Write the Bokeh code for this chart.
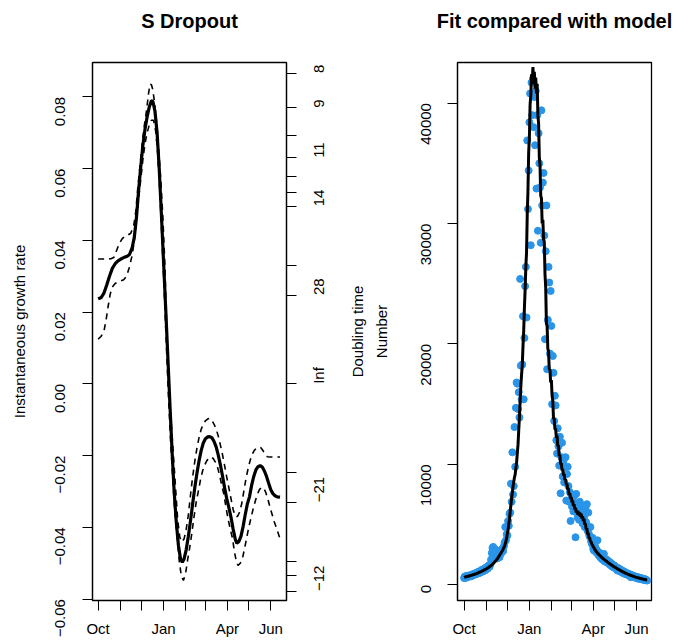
import math
from bokeh.plotting import figure
from bokeh.layouts import row
from bokeh.models import Range1d, LinearAxis, FixedTicker, Title
from bokeh.embed import file_html
from bokeh.resources import INLINE

# ---------------- data ----------------
# x values are days since 1 October
month_ticks = [0, 31, 61, 92, 123, 151, 182, 212, 243]
month_labels = ["Oct", "", "", "Jan", "", "", "Apr", "", "Jun"]

growth_ticks = [-0.06, -0.04, -0.02, 0.0, 0.02, 0.04, 0.06, 0.08]
growth_labels = ["\u22120.06", "\u22120.04", "\u22120.02", "0.00", "0.02", "0.04", "0.06", "0.08"]

doubling_days = [8, 9, 10, 11, 12, 13, 14, 21, 28, None, -28, -21, -14, -13, -12]
doubling_labels = ["8", "9", "", "11", "", "", "14", "", "28", "Inf", "", "\u221221", "", "", "\u221212"]

number_ticks = [0, 10000, 20000, 30000, 40000]
number_labels = ["0", "10000", "20000", "30000", "40000"]

# growth rate (solid)
r_days = [0, 4, 8, 12, 16, 20, 24, 28, 32, 36, 40, 44, 48, 51, 54, 57, 60, 63, 66, 69, 72, 75, 77,
          80, 83, 86, 89, 92, 95, 98, 101, 104, 107, 110, 113, 116, 118.5, 121, 124, 127, 130, 133,
          136, 139, 142, 145, 148, 151, 154, 157, 160, 163, 166, 169, 172, 175, 178, 181, 184, 187,
          190, 193, 195, 198, 201, 204, 207, 210, 213, 216, 219, 222, 225, 228, 231, 234, 237, 240,
          243, 246, 249, 252, 256]
r_mid = [0.0237, 0.0240, 0.0252, 0.0275, 0.0300, 0.0322, 0.0335, 0.0343, 0.0348, 0.0352, 0.0355,
         0.0360, 0.0380, 0.0410, 0.0465, 0.0540, 0.0605, 0.0665, 0.0710, 0.0745, 0.0772, 0.0789,
         0.0788, 0.0760, 0.0700, 0.0600, 0.0475, 0.0345, 0.0215, 0.0080, -0.0055, -0.0185, -0.0300,
         -0.0385, -0.0450, -0.0488, -0.0497, -0.0488, -0.0462, -0.0425, -0.0382, -0.0335, -0.0290,
         -0.0250, -0.0215, -0.0186, -0.0165, -0.0153, -0.0148, -0.0147, -0.0150, -0.0160, -0.0175,
         -0.0198, -0.0225, -0.0256, -0.0290, -0.0320, -0.0345, -0.0372, -0.0405, -0.0433, -0.0444,
         -0.0440, -0.0425, -0.0398, -0.0365, -0.0335, -0.0315, -0.0283, -0.0258, -0.0240, -0.0231,
         -0.0228, -0.0232, -0.0243, -0.0258, -0.0277, -0.0295, -0.0306, -0.0312, -0.0315, -0.0316]

# upper band (dashed)
up_days = [0, 6, 12, 18, 22, 26, 30, 34, 38, 42, 46, 50, 53, 56, 59, 62, 65, 68, 71, 73, 75, 77, 79,
           82, 85, 88, 91, 94, 97, 100, 103, 106, 109, 112, 115, 118, 121, 124, 127, 130, 133, 136,
           139, 142, 145, 148, 151, 154, 157, 160, 163, 166, 169, 172, 175, 178, 181, 184, 187, 190,
           193, 196, 199, 202, 205, 208, 211, 214, 217, 220, 223, 226, 229, 232, 235, 238, 242, 246,
           251, 256]
r_up = [0.0348, 0.0348, 0.0348, 0.0349, 0.0352, 0.0372, 0.0392, 0.0405, 0.0412, 0.0415, 0.0420,
        0.0440, 0.0480, 0.0550, 0.0610, 0.0670, 0.0720, 0.0760, 0.0810, 0.0836, 0.0834, 0.0820,
        0.0790, 0.0735, 0.0660, 0.0575, 0.0470, 0.0330, 0.0120, -0.0020, -0.0110, -0.0200, -0.0290,
        -0.0380, -0.0428, -0.0441, -0.0432, -0.0405, -0.0365, -0.0310, -0.0260, -0.0217, -0.0180,
        -0.0150, -0.0127, -0.0112, -0.0103, -0.0098, -0.0096, -0.0101, -0.0112, -0.0125, -0.0145,
        -0.0170, -0.0197, -0.0228, -0.0260, -0.0290, -0.0320, -0.0350, -0.0370, -0.0370, -0.0358,
        -0.0335, -0.0300, -0.0265, -0.0237, -0.0213, -0.0196, -0.0185, -0.0179, -0.0176, -0.0178,
        -0.0186, -0.0198, -0.0203, -0.0204, -0.0204, -0.0204, -0.0204]

# lower band (dashed)
lo_days = [0, 4, 8, 11, 14, 17, 20, 24, 28, 32, 36, 40, 44, 48, 51, 54, 57, 60, 63, 66, 69, 72, 75,
           78, 81, 84, 87, 90, 93, 96, 99, 102, 105, 108, 111, 114, 117, 120, 123, 126, 129, 132,
           135, 138, 141, 144, 147, 150, 153, 156, 159, 162, 165, 168, 171, 174, 177, 180, 183, 186,
           189, 192, 195, 197, 200, 203, 206, 209, 212, 215, 218, 221, 224, 227, 230, 233, 236, 239,
           242, 245, 248, 251, 254, 256]
r_lo = [0.0125, 0.0132, 0.0145, 0.0175, 0.0215, 0.0250, 0.0270, 0.0280, 0.0284, 0.0287, 0.0290,
        0.0300, 0.0325, 0.0360, 0.0400, 0.0450, 0.0515, 0.0570, 0.0625, 0.0670, 0.0700, 0.0722,
        0.0735, 0.0735, 0.0705, 0.0640, 0.0530, 0.0400, 0.0260, 0.0110, -0.0035, -0.0160, -0.0260,
        -0.0360, -0.0422, -0.0490, -0.0535, -0.0548, -0.0530, -0.0490, -0.0455, -0.0415, -0.0370,
        -0.0330, -0.0300, -0.0268, -0.0243, -0.0226, -0.0214, -0.0207, -0.0204, -0.0208, -0.0218,
        -0.0232, -0.0255, -0.0283, -0.0308, -0.0345, -0.0378, -0.0405, -0.0430, -0.0470, -0.0500,
        -0.0506, -0.0500, -0.0488, -0.0460, -0.0430, -0.0400, -0.0375, -0.0350, -0.0328, -0.0308,
        -0.0295, -0.0289, -0.0290, -0.0303, -0.0322, -0.0345, -0.0365, -0.0385, -0.0402, -0.0420,
        -0.0432]

# daily counts, day 0 .. 258
count_days = list(range(259))
observed = [560, 700, 610, 580, 760, 650, 720, 690, 800, 740, 700, 860, 790, 880, 820, 950, 870, 900,
            1020, 930, 1080, 1100, 990, 1150, 1060, 1250, 1180, 1120, 1300, 1350, 1220, 1450, 1400,
            1330, 1550, 1620, 1500, 1700, 2100, 2650, 3050, 3150, 2900, 2750, 2950, 2600, 2300, 2200,
            2400, 2500, 2300, 2700, 2600, 2900, 3000, 2800, 3200, 3500, 4800, 3700, 4200, 4100, 5300,
            4900, 5900, 6000, 8400, 6900, 11000, 7500, 8200, 13100, 9800, 14700, 16800, 16700, 14600,
            16000, 13900, 25400, 18200, 15400, 18300, 22300, 15400, 20500, 24800, 26400, 22200, 36900,
            31200, 34400, 38400, 40800, 28200, 41700, 39000, 42000, 38000, 40500, 36500, 41000, 32900,
            39000, 29400, 37500, 35000, 33000, 28400, 39400, 31500, 33400, 34200, 29000, 20400, 27700,
            31500, 17900, 22000, 26400, 25100, 19200, 24400, 21500, 15000, 19000, 17600, 13600, 15700,
            14900, 12000, 10900, 13000, 11500, 9900, 12300, 7600, 10600, 11800, 9000, 10300, 8500, 9800,
            10600, 7000, 9200, 9800, 8200, 6900, 7700, 5300, 7500, 6500, 7200, 6100, 7400, 6800, 3950,
            7550, 6300, 5600, 6700, 5400, 6900, 6400, 5800, 6600, 5100, 6200, 5600, 4800, 6400, 5200,
            6700, 4500, 6000, 4200, 4000, 4800, 3600, 3400, 3900, 3000, 2850, 3300, 3100, 2700, 2900,
            3700, 2500, 2700, 2350, 2600, 2200, 2400, 2100, 2250, 2570, 1950, 2150, 1900, 2100, 2020,
            1800, 1950, 1700, 1850, 1600, 1750, 1500, 1650, 1450, 1600, 1380, 1460, 1300, 1190, 1400,
            1250, 1150, 1300, 1100, 1200, 1000, 1150, 980, 1080, 900, 1020, 860, 950, 820, 900, 760,
            870, 630, 800, 700, 780, 650, 720, 600, 680, 560, 650, 520, 620, 500, 580, 470, 550, 450,
            520, 420, 480, 390, 450, 370, 360]
fitted = [620, 650, 640, 680, 690, 700, 730, 720, 760, 770, 780, 810, 810, 850, 860, 880, 910, 910,
          960, 970, 1000, 1030, 1040, 1090, 1100, 1130, 1170, 1180, 1230, 1250, 1280, 1320, 1340, 1400,
          1420, 1460, 1520, 1540, 1610, 1650, 1700, 1770, 1810, 1900, 1950, 2020, 2110, 2170, 2280,
          2350, 2450, 2560, 2640, 2760, 2840, 2950, 3100, 3210, 3420, 3620, 3900, 4280, 4570, 5080,
          5470, 6130, 6670, 7230, 7670, 8180, 8570, 8930, 9170, 9730, 10170, 10940, 11660, 12850,
          13950, 15350, 16550, 17450, 18250, 19800, 21100, 23000, 24500, 26400, 27600, 30800, 32700,
          35900, 37100, 39900, 40600, 42400, 41600, 43000, 41800, 42600, 41200, 42100, 40800, 41600,
          39000, 38300, 35500, 34800, 32300, 32100, 30000, 30300, 28700, 28500, 25800, 24700, 21700,
          21500, 19600, 19400, 17900, 17900, 16800, 17000, 15700, 15300, 13800, 13800, 12900, 13000,
          12200, 12400, 11500, 11600, 10700, 10800, 10000, 10100, 9500, 9600, 9100, 9200, 8700, 8800,
          8300, 8400, 7900, 8000, 7450, 7600, 7150, 7300, 6850, 7000, 6550, 6700, 6250, 6400, 6000,
          6200, 5850, 6100, 5750, 6000, 5650, 5900, 5500, 5700, 5300, 5500, 5000, 5100, 4600, 4700,
          4200, 4300, 3900, 3900, 3600, 3600, 3350, 3320, 3130, 3100, 2930, 2900, 2760, 2740, 2610,
          2600, 2480, 2470, 2370, 2350, 2260, 2250, 2160, 2150, 2060, 2050, 1980, 1960, 1880, 1860,
          1790, 1770, 1700, 1690, 1620, 1610, 1540, 1530, 1460, 1460, 1390, 1390, 1320, 1320, 1260,
          1250, 1190, 1180, 1130, 1110, 1060, 1050, 1000, 990, 940, 940, 890, 890, 840, 840, 790, 790,
          750, 750, 710, 710, 670, 660, 630, 620, 590, 590, 560, 560, 530, 530, 500, 500, 470, 470,
          440, 440, 420, 410, 400]

# ---------------- styling helpers ----------------
FONT = "Liberation Sans"
VERT = math.pi / 2


def style_axis(ax, ticks, labels, vertical):
    ax.ticker = FixedTicker(ticks=ticks)
    ax.major_label_overrides = {t: l for t, l in zip(ticks, labels)}
    ax.minor_tick_line_color = None
    ax.major_tick_in = 0
    ax.major_tick_out = 10
    ax.major_tick_line_color = "black"
    ax.major_tick_line_width = 1
    ax.axis_line_color = "black"
    ax.axis_line_width = 1.2
    ax.major_label_text_font = FONT
    ax.major_label_text_font_size = "15px"
    ax.major_label_text_color = "black"
    ax.axis_label_text_font = FONT
    ax.axis_label_text_font_size = "15px"
    ax.axis_label_text_font_style = "normal"
    ax.axis_label_text_color = "black"
    if vertical:
        ax.major_label_orientation = VERT


def make_fig(title, xr, yr, bl, br):
    p = figure(frame_width=194, frame_height=538, x_range=xr, y_range=yr, title=None,
               output_backend="svg", toolbar_location=None,
               min_border_left=bl, min_border_right=br, min_border_top=62, min_border_bottom=38)
    # spacer between title and frame, then the title itself (outermost)
    p.add_layout(Title(text=" ", text_font_size="10px", standoff=13), "above")
    p.add_layout(Title(text=title, align="center", text_font=FONT, text_font_size="20px",
                       text_font_style="bold", text_color="black", standoff=10), "above")
    p.xgrid.visible = False
    p.ygrid.visible = False
    p.outline_line_color = "black"
    p.outline_line_width = 1.3
    p.background_fill_color = "white"
    p.border_fill_color = "white"
    return p


# ---------------- left panel ----------------
p1 = make_fig("S Dropout", Range1d(-7.9, 265.1), Range1d(-0.0604, 0.0896), 92, 52)
style_axis(p1.xaxis[0], month_ticks, month_labels, False)
p1.xaxis[0].major_label_standoff = 9
style_axis(p1.yaxis[0], growth_ticks, growth_labels, True)
p1.yaxis[0].major_label_standoff = 22
p1.yaxis[0].axis_label = "Instantaneous growth rate"
p1.yaxis[0].axis_label_standoff = 20

dbl_ticks = [0.0 if d is None else math.log(2) / d for d in doubling_days]
ax_r = LinearAxis()
style_axis(ax_r, dbl_ticks, doubling_labels, True)
ax_r.major_label_standoff = 22
p1.add_layout(ax_r, "right")

p1.line(up_days, r_up, line_color="black", line_width=1.6, line_dash="6 5")
p1.line(lo_days, r_lo, line_color="black", line_width=1.6, line_dash="6 5")
p1.line(r_days, r_mid, line_color="black", line_width=3.2)

# ---------------- right panel ----------------
p2 = make_fig("Fit compared with model", Range1d(-9.3, 264.1), Range1d(-1300, 43370), 119, 22)
style_axis(p2.xaxis[0], month_ticks, month_labels, False)
p2.xaxis[0].major_label_standoff = 9
style_axis(p2.yaxis[0], number_ticks, number_labels, True)
p2.yaxis[0].major_label_standoff = 21
# "Doubling time" (title of the left panel's right axis) sits on the line above "Number"
p2.yaxis[0].axis_label = "Doubling time\nNumber"
p2.yaxis[0].axis_label_text_line_height = 1.4
p2.yaxis[0].axis_label_standoff = 24

p2.scatter(count_days, observed, size=7, fill_color="#2a95e8", line_color="#2a95e8")
p2.line(count_days, fitted, line_color="black", line_width=3)

layout = row(p1, p2)
open("out.html", "w").write(file_html(layout, INLINE))
